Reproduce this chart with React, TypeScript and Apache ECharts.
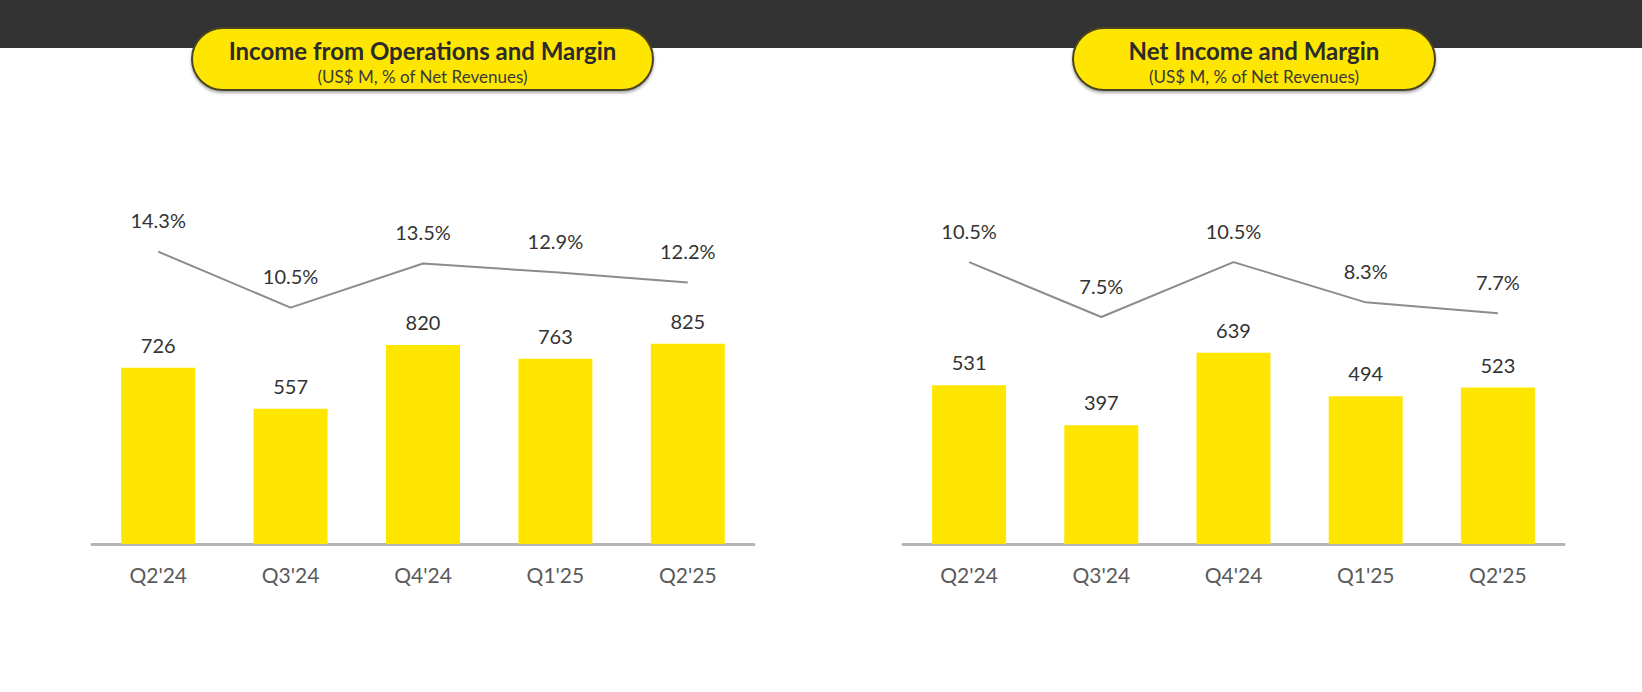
import * as echarts from 'echarts';
import { useEffect, useRef } from 'react';

const quarters = ["Q2'24", "Q3'24", "Q4'24", "Q1'25", "Q2'25"];
const opIncome = [726, 557, 820, 763, 825];
const opMargin = [14.3, 10.5, 13.5, 12.9, 12.2];
const netIncome = [531, 397, 639, 494, 523];
const netMargin = [10.5, 7.5, 10.5, 8.3, 7.7];

const leftTitle = 'Income from Operations and Margin';
const rightTitle = 'Net Income and Margin';
const subTitle = '(US$ M, % of Net Revenues)';

const FONT = 'Lato, "Open Sans", sans-serif';
const YELLOW = '#FFE600';

function pill(x: number, w: number, title: string) {
  const cx = x + w / 2;
  return {
    type: 'group',
    children: [
      {
        type: 'rect',
        shape: { x, y: 28, width: w, height: 62, r: 31 },
        style: {
          fill: YELLOW,
          stroke: '#4a4420',
          lineWidth: 2,
          shadowBlur: 3,
          shadowOffsetY: 2,
          shadowColor: 'rgba(0,0,0,0.35)',
        },
      },
      {
        type: 'text',
        x: cx,
        y: 50,
        style: {
          text: title,
          fill: '#2b2b2b',
          font: `bold 24px ${FONT}`,
          textAlign: 'center',
          textVerticalAlign: 'middle',
        },
      },
      {
        type: 'text',
        x: cx,
        y: 76,
        style: {
          text: subTitle,
          fill: '#3a3a3a',
          font: `17px ${FONT}`,
          textAlign: 'center',
          textVerticalAlign: 'middle',
        },
      },
    ],
  };
}

export default function App() {
  const chartRef = useRef<HTMLDivElement>(null);

  useEffect(() => {
    document.body.style.margin = '0';
    if (!chartRef.current) return;
    const chart = echarts.init(chartRef.current, undefined, { renderer: 'svg' });

    const xAxisBase = (gridIndex: number) => ({
      type: 'category' as const,
      gridIndex,
      data: quarters,
      axisLine: { lineStyle: { color: '#b5b5b5', width: 3 } },
      axisTick: { show: false },
      axisLabel: { color: '#5a5a5a', fontSize: 21, margin: 20, fontFamily: FONT },
    });

    const hiddenY = (gridIndex: number, min: number, max: number) => ({
      type: 'value' as const,
      gridIndex,
      min,
      max,
      show: false,
      splitLine: { show: false },
    });

    const barSeries = (data: number[], idx: number) => ({
      type: 'bar' as const,
      xAxisIndex: idx,
      yAxisIndex: idx * 2,
      data,
      barWidth: 74,
      itemStyle: { color: YELLOW },
      label: {
        show: true,
        position: 'top' as const,
        distance: 13,
        color: '#333',
        fontSize: 20,
        fontFamily: FONT,
      },
    });

    const lineSeries = (data: number[], idx: number) => ({
      type: 'line' as const,
      xAxisIndex: idx,
      yAxisIndex: idx * 2 + 1,
      data,
      symbol: 'circle',
      symbolSize: 1,
      showSymbol: true,
      itemStyle: { color: 'rgba(0,0,0,0)' },
      lineStyle: { color: '#8c8c8c', width: 2 },
      label: {
        show: true,
        position: 'top' as const,
        distance: 21,
        color: '#333',
        fontSize: 20,
        fontFamily: FONT,
        formatter: (p: any) => `${(p.value as number).toFixed(1)}%`,
      },
    });

    chart.setOption({
      animation: false,
      backgroundColor: '#ffffff',
      grid: [
        { left: 92, width: 662, top: 209, height: 335 },
        { left: 903, width: 661, top: 209, height: 335 },
      ],
      xAxis: [xAxisBase(0), xAxisBase(1)],
      yAxis: [
        hiddenY(0, 0, 1380),
        hiddenY(0, -5.56, 17.2),
        hiddenY(1, 0, 1120),
        hiddenY(1, -4.9, 13.4),
      ],
      series: [
        barSeries(opIncome, 0),
        lineSeries(opMargin, 0),
        barSeries(netIncome, 1),
        lineSeries(netMargin, 1),
      ],
      graphic: [
        {
          type: 'rect',
          shape: { x: 0, y: 0, width: 1642, height: 48 },
          style: { fill: '#333333' },
        },
        pill(192, 461, leftTitle),
        pill(1073, 362, rightTitle),
      ],
    });

    return () => {
      chart.dispose();
    };
  }, []);

  return <div ref={chartRef} style={{ width: 1642, height: 692 }} />;
}
